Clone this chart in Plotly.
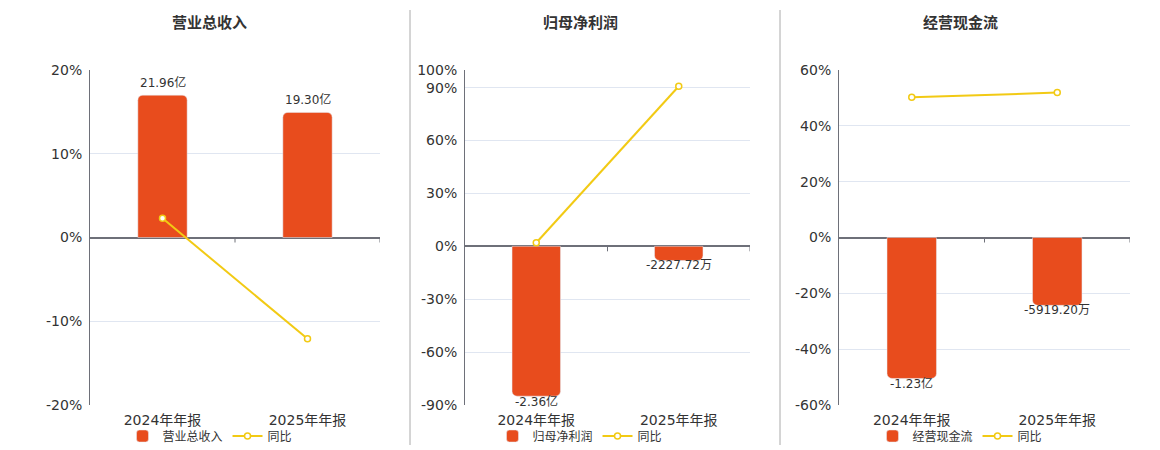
import plotly.graph_objects as go

# 数据
categories = ["2024年年报", "2025年年报"]

titles = ["营业总收入", "归母净利润", "经营现金流"]
bar_values = [
    [21.96, 19.30],          # 亿
    [-2.36, -0.222772],      # 亿
    [-1.23, -0.59192],       # 亿
]
bar_labels = [
    ["21.96亿", "19.30亿"],
    ["-2.36亿", "-2227.72万"],
    ["-1.23亿", "-5919.20万"],
]
yoy_values = [
    [2.3, -12.1],
    [2.0, 90.8],
    [50.2, 51.9],
]

# 百分比轴
pct_ranges = [[-20, 20], [-90, 100], [-60, 60]]
pct_ticks = [
    [-20, -10, 0, 10, 20],
    [-90, -60, -30, 0, 30, 60, 90, 100],
    [-60, -40, -20, 0, 20, 40, 60],
]
# 柱子所在隐藏轴: 每 1% 对应多少亿
bar_scale = [1.292, 0.02777, 0.02436]

BAR_COLOR = "#E84C1D"
LINE_COLOR = "#F2CA14"
GRID_COLOR = "#E0E6F1"
AXIS_COLOR = "#6E7079"
FONT = "DejaVu Sans, Noto Sans CJK SC, sans-serif"

W, H = 1160, 450
OFF = 8  # 页面 body 默认外边距
plot_x = [(90, 380), (465, 750), (839, 1130)]
centers = [210, 580, 960]
y_top, y_bot = 70, 405


def px(v):
    return (v - OFF) / W


def py(v):
    return 1 - (v - OFF) / H


fig = go.Figure()
layout = dict(
    width=W, height=H,
    margin=dict(l=0, r=0, t=0, b=0, autoexpand=False),
    paper_bgcolor="white", plot_bgcolor="white",
    font=dict(family=FONT, color="#333"),
    barcornerradius=5,
    annotations=[], shapes=[],
)

for i in range(3):
    n = i + 1
    xa = "x" if n == 1 else f"x{n}"
    yb = f"y{2 * i + 1}" if i > 0 else "y"
    yp = f"y{2 * i + 2}"
    leg = "legend" if n == 1 else f"legend{n}"
    dom = [px(plot_x[i][0]), px(plot_x[i][1])]

    fig.add_trace(go.Bar(
        x=categories, y=bar_values[i], name=titles[i],
        xaxis=xa, yaxis=yb, marker_color=BAR_COLOR, width=0.34,
        legend=leg,
    ))
    fig.add_trace(go.Scatter(
        x=categories, y=yoy_values[i], name="同比", mode="lines+markers",
        xaxis=xa, yaxis=yp,
        line=dict(color=LINE_COLOR, width=2),
        marker=dict(symbol="circle", size=6, color="white",
                    line=dict(color=LINE_COLOR, width=1.5)),
        legend=leg, cliponaxis=False,
    ))

    # 柱子数值标签
    for cat, val, lab in zip(categories, bar_values[i], bar_labels[i]):
        pos = val >= 0
        layout["annotations"].append(dict(
            text=lab, xref=xa, yref=yb, x=cat, y=val,
            xanchor="center", yanchor="bottom" if pos else "top",
            yshift=3 if pos else 4, showarrow=False,
            font=dict(size=12, color="#333", family=FONT),
        ))

    xkey = "xaxis" if n == 1 else f"xaxis{n}"
    ybkey = "yaxis" if i == 0 else f"yaxis{2 * i + 1}"
    ypkey = f"yaxis{2 * i + 2}"
    lo, hi = pct_ranges[i]
    layout[xkey] = dict(
        domain=dom, anchor=yb, type="category", range=[-0.5, 1.5],
        showgrid=False, showline=False, ticks="",
        tickfont=dict(size=14, color="#333", family=FONT),
        ticklabelstandoff=5,
    )
    layout[ybkey] = dict(
        domain=[py(y_bot), py(y_top)], anchor=xa,
        range=[lo * bar_scale[i], hi * bar_scale[i]],
        visible=False, showgrid=False, zeroline=False,
    )
    layout[ypkey] = dict(
        overlaying=yb, anchor=xa, side="left", range=[lo, hi],
        tickvals=pct_ticks[i], ticktext=[f"{v}%" for v in pct_ticks[i]],
        tickfont=dict(size=14, color="#333", family=FONT),
        showgrid=True, gridcolor=GRID_COLOR, gridwidth=1,
        zeroline=True, zerolinecolor=AXIS_COLOR, zerolinewidth=2,
        showline=True, linecolor=AXIS_COLOR, linewidth=1,
        ticks="", ticklabelstandoff=4,
    )
    layout[leg] = dict(
        orientation="h", x=px(centers[i]), xanchor="center",
        y=py(436), yanchor="middle",
        font=dict(size=12, color="#333", family="Noto Sans CJK SC"),
        bgcolor="rgba(0,0,0,0)", itemwidth=30,
    )
    layout["annotations"].append(dict(
        text=f"<b>{titles[i]}</b>", xref="paper", yref="paper",
        x=px(centers[i]), y=py(22), xanchor="center", yanchor="middle",
        showarrow=False, font=dict(size=15, color="#333", family="Noto Sans CJK SC"),
    ))
    # 零线上的类目分隔刻度
    for b in [0.5, 1.5]:
        layout["shapes"].append(dict(
            type="line", xref=xa, yref=yp, x0=b, x1=b,
            ysizemode="pixel", yanchor=0, y0=0, y1=-5,
            line=dict(color=AXIS_COLOR, width=1),
        ))

# 面板分隔线
for xs in [410, 780]:
    layout["shapes"].append(dict(
        type="line", xref="paper", yref="paper",
        x0=px(xs), x1=px(xs), y0=py(445), y1=py(10),
        line=dict(color="#AAAAAA", width=1),
    ))

fig.update_layout(**layout)
fig.write_html("out.html")
